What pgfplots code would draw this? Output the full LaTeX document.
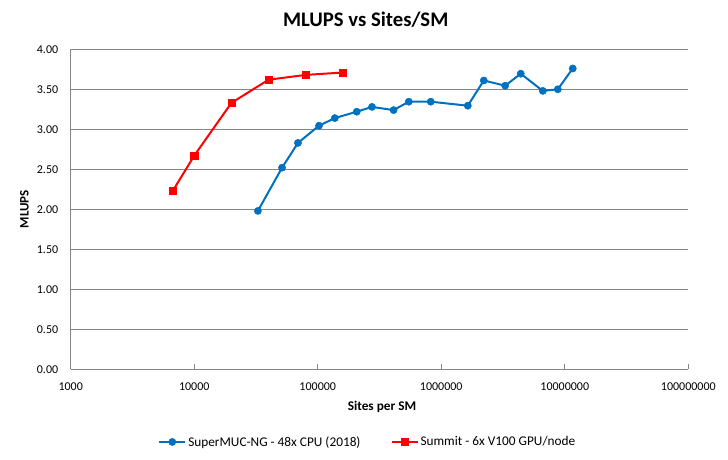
\documentclass[border=0pt]{standalone}
\usepackage{pgfplots}
\pgfplotsset{compat=1.18}
\usepackage{fontspec}
\setmainfont{Carlito}
\definecolor{xlblue}{RGB}{0,112,192}
\definecolor{xlred}{RGB}{255,0,0}
\definecolor{xlgrid}{RGB}{134,134,134}
\begin{document}
\begin{tikzpicture}
\useasboundingbox (0,0) rectangle (728bp,460bp);
\begin{axis}[
  at={(70.7bp,90.7bp)}, anchor=south west,
  scale only axis, width=617.6bp, height=320bp,
  xmode=log, log basis x=10,
  xmin=1000, xmax=100000000,
  ymin=0, ymax=4,
  xtick={1000,10000,100000,1000000,10000000,100000000},
  xticklabels={1000,10000,100000,1000000,10000000,100000000},
  ytick={0,0.5,1,1.5,2,2.5,3,3.5,4},
  yticklabels={0.00,0.50,1.00,1.50,2.00,2.50,3.00,3.50,4.00},
  /pgf/number format/assume math mode=true,
  ticklabel style={font=\fontsize{12bp}{14bp}\selectfont},
  axis lines*=left,
  axis line style={draw=xlgrid, line width=0.9bp},
  ymajorgrids, grid style={draw=xlgrid, line width=0.9bp},
  tick align=inside,
  xtick pos=bottom,
  major tick length=5bp, minor tick length=3bp,
  xtick style={draw=xlgrid, line width=0.8bp},
  minor x tick style={draw=xlgrid, line width=0.8bp},
  ytick style={draw=none},
  xticklabel style={yshift=-10bp},
  yticklabel style={xshift=-9bp},
  clip=false,
  legend style={at={(0.481,-0.227)}, anchor=center, draw=none, fill=none,
    font=\fontsize{13.3bp}{15bp}\selectfont, legend columns=2,
    /tikz/every even column/.append style={column sep=28bp},
    nodes={inner xsep=2bp}},
  legend image code/.code={\draw[mark repeat=2,mark phase=2] plot coordinates {(0bp,0bp) (13bp,0bp) (26bp,0bp)};},
  legend cell align=left,
]
\addplot[xlblue, line width=2bp, mark=*, mark size=3.6bp, mark options={fill=xlblue, draw=xlblue, line width=0.5bp}] coordinates {
(32768,1.98) (51400,2.52) (69200,2.83) (102400,3.045) (137400,3.14)
(207000,3.22) (275000,3.28) (411000,3.24) (546000,3.345) (822000,3.345)
(1640000,3.295) (2210000,3.61) (3290000,3.545) (4400000,3.695)
(6640000,3.48) (8780000,3.50) (11600000,3.76)
};
\addlegendentry{SuperMUC-NG - 48x CPU (2018)}
\addplot[xlred, line width=2bp, mark=square*, mark size=3.6bp, mark options={fill=xlred, draw=xlred, line width=0.5bp}] coordinates {
(6700,2.23) (10000,2.67) (20000,3.33) (40000,3.62) (80000,3.68) (160000,3.71)
};
\addlegendentry{Summit - 6x V100 GPU/node}
\end{axis}
\node[font=\fontsize{20.7bp}{24bp}\selectfont\bfseries] at (365.7bp,440bp) {MLUPS vs Sites/SM};
\node[font=\fontsize{13.3bp}{15bp}\selectfont\bfseries] at (382bp,53bp) {Sites per SM};
\node[font=\fontsize{13bp}{15bp}\selectfont\bfseries, rotate=90] at (24.5bp,251bp) {MLUPS};
\end{tikzpicture}
\end{document}
